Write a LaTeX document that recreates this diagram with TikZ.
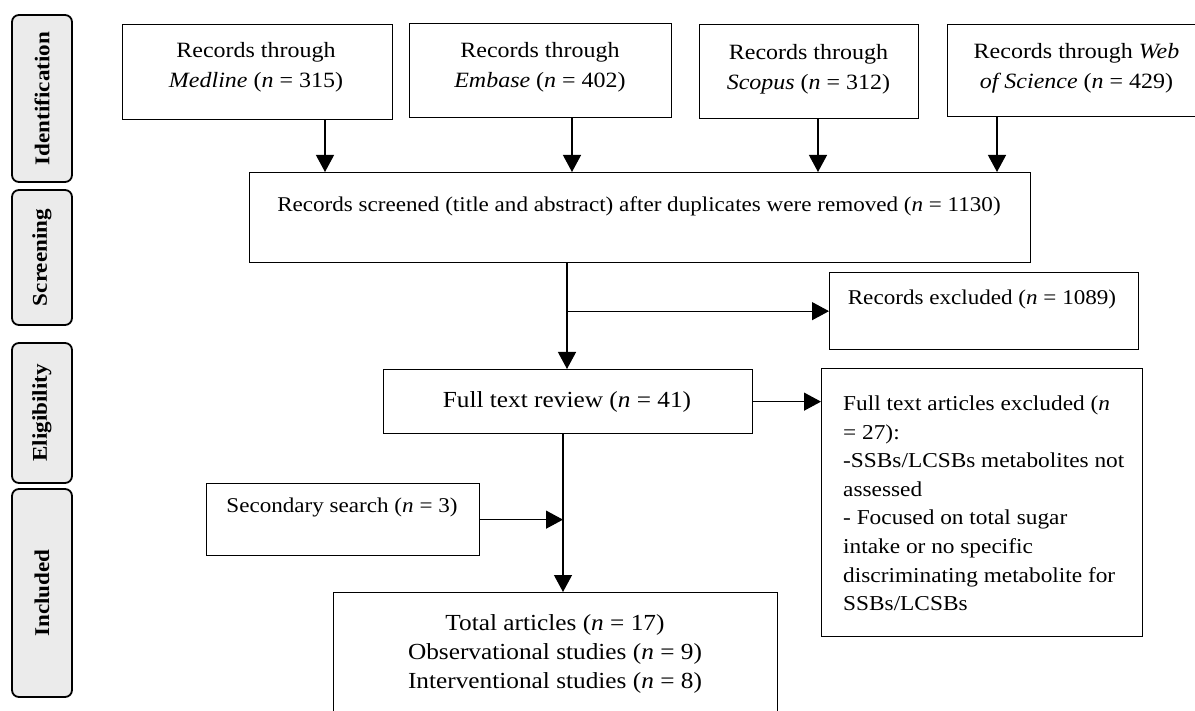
\documentclass[tikz,border=0pt]{standalone}
\usepackage{fontspec}
\setmainfont[FakeStretch=1.1]{Liberation Serif}
\usetikzlibrary{arrows.meta}
\begin{document}
\begin{tikzpicture}[x=1pt,y=-1pt,
  box/.style={draw, line width=1.3pt, inner sep=0pt, anchor=north west},
  stage/.style={draw, line width=1.8pt, fill=black!8, rounded corners=7pt, rotate=90, inner sep=0pt,
    font=\fontsize{21}{24}\selectfont\bfseries},
  arr/.style={-{Triangle[length=17pt,width=18pt]}, line width=1.2pt},
  txt/.style={font=\fontsize{21.8}{30}\selectfont, align=center, inner sep=0pt},
  stxt/.style={font=\fontsize{21}{30}\selectfont, align=center, inner sep=0pt, anchor=base},
  btxt/.style={font=\fontsize{23}{29}\selectfont, align=center, inner sep=0pt},
  ftxt/.style={font=\fontsize{21.2}{28.6}\selectfont, align=left, inner sep=0pt, anchor=north west}]
\useasboundingbox (0,0) rectangle (1195,711);
\clip (0,0) rectangle (1195,711);
\fill[white] (0,0) rectangle (1195,711);

% stage labels
\node[stage, minimum width=167pt, minimum height=60pt] (sid) at (42,98.5) {Identification};
\node[stage, minimum width=135pt, minimum height=60pt] (ssc) at (42,257.5) {Screening};
\node[stage, minimum width=140pt, minimum height=60pt] (sel) at (42,413) {Eligibility};
\node[stage, minimum width=208pt, minimum height=60pt] (sin) at (42,593) {Included};

% boxes
\node[box, minimum width=270pt, minimum height=95pt] (med) at (122,24) {};
\node[box, minimum width=262pt, minimum height=94pt] (emb) at (409,23) {};
\node[box, minimum width=219pt, minimum height=94pt] (sco) at (699,24) {};
\node[box, minimum width=260pt, minimum height=92pt] (wos) at (947,24) {};
\node[box, minimum width=781pt, minimum height=90pt] (scr) at (249,172) {};
\node[box, minimum width=309pt, minimum height=77pt] (rex) at (829,272) {};
\node[box, minimum width=369pt, minimum height=64pt] (ftr) at (383,369) {};
\node[box, minimum width=321pt, minimum height=268pt] (fte) at (821,368) {};
\node[box, minimum width=273pt, minimum height=72pt] (sec) at (206,483) {};
\node[box, minimum width=444pt, minimum height=140pt] (tot) at (333,592) {};

% texts
\node[txt, anchor=north] (tmed) at (256,42) {Records through\\\textit{Medline} (\textit{n} = 315)};
\node[txt, anchor=north] (temb) at (540,42) {Records through\\\textit{Embase} (\textit{n} = 402)};
\node[txt, anchor=north] (tsco) at (808.5,44) {Records through\\\textit{Scopus} (\textit{n} = 312)};
\node[txt, anchor=north] (twos) at (1076.5,43) {Records through \textit{Web}\\\textit{of Science} (\textit{n} = 429)};
\node[stxt] (tscr) at (639,212) {Records screened (title and abstract) after duplicates were removed (\textit{n} = 1130)};
\node[stxt] (trex) at (982,305) {Records excluded (\textit{n} = 1089)};
\node[btxt, anchor=base] (tftr) at (567,407) {Full text review (\textit{n} = 41)};
\node[ftxt] (tfte) at (843,395.5) {Full text articles excluded (\textit{n}\\= 27):\\-SSBs/LCSBs metabolites not\\assessed\\- Focused on total sugar\\intake or no specific\\discriminating metabolite for\\SSBs/LCSBs};
\node[stxt] (tsec) at (342,512) {Secondary search (\textit{n} = 3)};
\node[btxt, anchor=north] (ttot) at (555,614) {Total articles (\textit{n} = 17)\\Observational studies (\textit{n} = 9)\\Interventional studies (\textit{n} = 8)};

% connectors
\coordinate (c1) at (325,0);
\coordinate (c2) at (572,0);
\coordinate (c3) at (818,0);
\coordinate (c4) at (997,0);
\coordinate (v1) at (567,0);
\coordinate (v2) at (563,0);
\draw[arr] (c1 |- med.south) -- (c1 |- scr.north);
\draw[arr] (c2 |- emb.south) -- (c2 |- scr.north);
\draw[arr] (c3 |- sco.south) -- (c3 |- scr.north);
\draw[arr] (c4 |- wos.south) -- (c4 |- scr.north);
\draw[arr] (v1 |- scr.south) -- (v1 |- ftr.north);
\draw[arr] (v1 |- rex.west) -- (rex.west);
\draw[arr] (ftr.east) -- (ftr.east -| fte.west);
\draw[arr] (v2 |- ftr.south) -- (v2 |- tot.north);
\draw[arr] (sec.east) -- (sec.east -| v2);
\end{tikzpicture}
\end{document}
